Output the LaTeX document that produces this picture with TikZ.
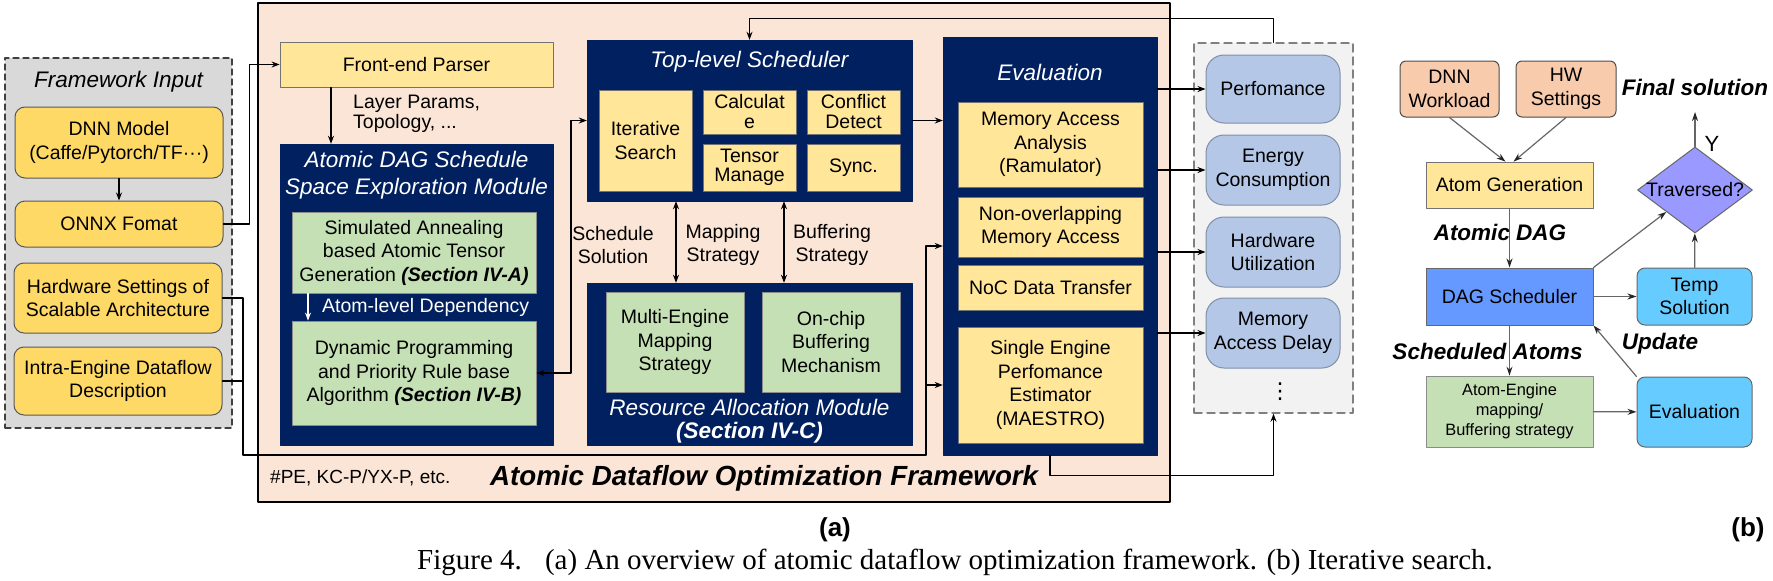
\documentclass[tikz,border=0pt]{standalone}
\usepackage{fontspec}
\setmainfont{Liberation Sans}
\newfontfamily\capfont{Liberation Serif}
\newfontfamily\symfont{DejaVu Sans}
\usetikzlibrary{arrows.meta,shapes.geometric,positioning}

\definecolor{navy}{RGB}{0,32,96}
\definecolor{peach}{HTML}{FBE5D6}
\definecolor{inyellow}{HTML}{FFD966}
\definecolor{lyellow}{HTML}{FFE699}
\definecolor{lgreen}{HTML}{C5E0B4}
\definecolor{ingray}{HTML}{D9D9D9}
\definecolor{metricfill}{HTML}{B4C7E7}
\definecolor{metricedge}{HTML}{7F8FA8}
\definecolor{salmon}{HTML}{F8CBAD}
\definecolor{dagblue}{HTML}{6699FF}
\definecolor{skyblue}{HTML}{66CCFF}
\definecolor{lavender}{HTML}{9999FF}

\begin{document}
\begin{tikzpicture}
  [
    x=1pt, y=-1pt,
    line cap=round, line join=round,
    >={Stealth[length=8pt,width=6pt]},
    txt/.style={font=\fontsize{19.5}{23.5}\selectfont, align=center, inner sep=0pt},
    sz/.style 2 args={minimum width=#1pt, minimum height=#2pt},
    inbox/.style={txt, draw=black!65, line width=1pt, fill=inyellow, rounded corners=10pt},
    ybox/.style={txt, draw=black!55, line width=.8pt, fill=lyellow},
    gbox/.style={txt, draw=black!45, line width=.8pt, fill=lgreen},
    darkbox/.style={fill=navy, draw=navy, inner sep=0pt},
    ttl/.style={font=\fontsize{22.5}{27}\selectfont\itshape, text=white, align=center, inner sep=0pt},
    metric/.style={txt, draw=metricedge, line width=1pt, fill=metricfill, rounded corners=18pt},
    bnote/.style={font=\fontsize{22.5}{27}\selectfont\bfseries\itshape, inner sep=0pt},
    conn/.style={line width=1.2pt},
    bconn/.style={draw=black!60, line width=1.2pt, -{Stealth[length=9pt,width=6pt,color=black!85]}},
  ]
\useasboundingbox (0,0) rectangle (1773,581);

% ---- framework input
\node[draw=black!75, dashed, dash pattern=on 6pt off 4pt, line width=1.2pt, fill=ingray, sz={227}{370}] (input) at (118.5,243) {};
\node[ttl, text=black] (inputT) at (118.5,82) {Framework Input};
\node[inbox, sz={208}{71}] (dnn) at (119,142.5) {DNN Model\\(Caffe/Pytorch/TF···)};
\node[inbox, sz={208}{46}] (onnx) at (119,224) {ONNX Fomat};
\node[inbox, sz={208}{70}] (hws) at (118,298) {Hardware Settings of\\Scalable Architecture};
\node[inbox, sz={208}{68}] (intra) at (118,381) {Intra-Engine Dataflow\\Description};

% ---- optimization framework
\node[draw=black, line width=2pt, fill=peach, sz={912}{499}] (frame) at (714,252.5) {};
\node[ybox, sz={273}{45}] (parser) at (416.5,64.5) {Front-end Parser};
\node[txt, anchor=west, align=left, font=\fontsize{19.5}{19.5}\selectfont] (params) at (353,114) {Layer Params,\\Topology, ...};

\node[darkbox, sz={273}{301}] (dagmod) at (416.5,294.5) {};
\node[ttl] (dagmodT) at (416.5,175.5) {Atomic DAG Schedule\\Space Exploration Module};
\node[gbox, sz={244}{81}] (sa) at (414,252.5) {Simulated Annealing\\based Atomic Tensor\\Generation \textbf{\textit{(Section IV-A)}}};
\node[gbox, sz={244}{104}] (dp) at (414,373) {Dynamic Programming\\and Priority Rule base\\Algorithm \textbf{\textit{(Section IV-B)}}};
\node[txt, text=white, anchor=west] (dep) at (322,307) {Atom-level Dependency};

\node[darkbox, sz={325}{161}] (top) at (749.5,120.5) {};
\node[ttl] (topT) at (749.5,62) {Top-level Scheduler};
\node[ybox, sz={93}{101}] (iter) at (645.5,140.5) {Iterative\\Search};
\node[ybox, sz={93}{44}, font=\fontsize{19.5}{20}\selectfont] (calc) at (749.5,112) {Calculat\\e};
\node[ybox, sz={93}{47}, font=\fontsize{19.5}{19}\selectfont] (tensor) at (749.5,167.5) {Tensor\\Manage};
\node[ybox, sz={93}{44}, font=\fontsize{19.5}{20}\selectfont] (conflict) at (853.5,112) {Conflict\\Detect};
\node[ybox, sz={93}{47}] (sync) at (853.5,167.5) {Sync.};

\node[darkbox, sz={325}{162}] (res) at (749.5,364) {};
\node[gbox, sz={138}{100}] (multi) at (675,342) {Multi-Engine\\Mapping\\Strategy};
\node[gbox, sz={138}{100}] (onchip) at (831,342) {On-chip\\Buffering\\Mechanism};
\node[ttl] (resT) at (749.5,407) {Resource Allocation Module};
\node[ttl, font=\fontsize{22.5}{27}\selectfont\bfseries\itshape] (resS) at (749.5,433) {(Section IV-C)};

\node[txt] (schsol) at (613,245) {Schedule\\Solution};
\node[txt] (mapstr) at (723,245) {Mapping\\Strategy};
\node[txt] (bufstr) at (832,245) {Buffering\\Strategy};

\node[darkbox, sz={214}{418}] (eval) at (1050,246) {};
\node[ttl] (evalT) at (1050,72) {Evaluation};
\node[ybox, sz={185}{85}] (mem) at (1050.5,144.5) {Memory Access\\Analysis\\(Ramulator)};
\node[ybox, sz={185}{60}] (nonov) at (1050.5,227) {Non-overlapping\\Memory Access};
\node[ybox, sz={185}{45}] (noc) at (1050.5,287.5) {NoC Data Transfer};
\node[ybox, sz={185}{116}] (single) at (1050.5,385) {Single Engine\\Perfomance\\Estimator\\(MAESTRO)};

\node[inner sep=0pt, anchor=west, font=\fontsize{19}{19}\selectfont] (pe) at (270,478) {\#PE, KC-P/YX-P, etc.};
\node[inner sep=0pt, anchor=west, font=\fontsize{27.7}{30}\selectfont\bfseries\itshape] (frameT) at (490,478) {Atomic Dataflow Optimization Framework};

% ---- metrics
\node[draw=black!50, dash pattern=on 8pt off 5pt, line width=1.4pt, fill=black!5, sz={159}{370}] (mbox) at (1273.5,228) {};
\node[metric, sz={134}{68}] (perf) at (1273,89) {Perfomance};
\node[metric, sz={134}{70}] (energy) at (1273,170) {Energy\\Consumption};
\node[metric, sz={134}{70}] (hwu) at (1273,252) {Hardware\\Utilization};
\node[metric, sz={134}{70}] (mad) at (1273,333) {Memory\\Access Delay};
\node[inner sep=0pt, font=\symfont\fontsize{22}{22}\selectfont] (more) at (1280,392) {⋮};

% ---- connectors (a)
\coordinate (jdag) at (571,0);
\coordinate (jhw) at (243,455);
\coordinate (jev) at (926,455);
\draw[conn, ->] (dnn) -- (onnx);
\draw[conn, ->] (onnx.east) -- ++(26,0) |- (parser.west);
\draw[conn, ->] ([xshift=-85.5pt]parser.south) -- ([xshift=-85.5pt]parser.south |- dagmod.north);
\draw[conn, ->, white] ([xshift=-106pt]sa.south) -- ([xshift=-106pt]dp.north);
\draw[conn, <->] (dp.east) -- (dp.east -| jdag) |- (top.west);
\draw[conn, ->] (top.east) -- (top.east -| eval.west);
\draw[conn, <->] ([xshift=-73.5pt]top.south) -- ([xshift=-73.5pt]res.north);
\draw[conn, <->] ([xshift=34.5pt]top.south) -- ([xshift=34.5pt]res.north);
\draw[conn] (hws.east) -| (jhw) -- (jev);
\draw[conn] (intra.east) -- (intra.east -| jhw);
\draw[conn, ->] (jev) |- (eval.west);
\draw[conn, ->] (jev |- single.west) -- (single.west -| eval.west);
\foreach \m in {perf,energy,hwu,mad}
  \draw[conn, ->] (eval.east |- \m.west) -- (\m.west);
\draw[conn, ->] (eval.south) -- ++(0,20) -| (mbox.south);
\draw[conn, ->] (mbox.north) -- ++(0,-24) -| (top.north);

% ---- iterative search (b)
\node[txt, draw=black!70, line width=1pt, fill=salmon, rounded corners=6pt, sz={99}{56}] (dnnw) at (1449.5,89) {DNN\\Workload};
\node[txt, draw=black!70, line width=1pt, fill=salmon, rounded corners=6pt, sz={100}{56}] (hwset) at (1566,89) {HW\\Settings};
\node[ybox, sz={167}{46}] (atomgen) at (1509.5,185) {Atom Generation};
\node[txt, draw=black!60, line width=1pt, fill=dagblue, sz={167}{57}] (dagsch) at (1509.5,296.5) {DAG Scheduler};
\node[txt, draw=black!60, line width=1pt, fill=skyblue, rounded corners=8pt, sz={115}{57}] (temp) at (1694.5,296.5) {Temp\\Solution};
\node[gbox, sz={167}{71}, font=\fontsize{16.4}{20}\selectfont] (atomeng) at (1509.5,411.5) {Atom-Engine\\mapping/\\Buffering strategy};
\node[txt, draw=black!60, line width=1pt, fill=skyblue, rounded corners=8pt, sz={115}{70}] (evalb) at (1694.5,412) {Evaluation};
\node[diamond, draw=black!60, line width=1pt, fill=lavender, inner sep=0pt, aspect=1.34, sz={115}{86}, label={[txt]center:Traversed?}] (trav) at (1695,190) {};
\coordinate (final) at (1695,112);

\node[bnote] (finalT) at (1695,87) {Final solution};
\node[inner sep=0pt, font=\fontsize{22}{22}\selectfont] (yes) at (1712,144) {Y};
\node[bnote] (dagT) at (1500,232) {Atomic DAG};
\node[bnote] (schedT) at (1487.5,351) {Scheduled Atoms};
\node[bnote] (updT) at (1660,344) {Update};

\draw[bconn] (dnnw.south) -- ([xshift=-4pt]atomgen.north);
\draw[bconn] (hwset.south) -- ([xshift=4pt]atomgen.north);
\draw[bconn] (atomgen) -- (dagsch);
\draw[bconn] (dagsch) -- (atomeng);
\draw[bconn] (dagsch) -- (temp);
\draw[bconn] (atomeng) -- (evalb);
\draw[bconn] (evalb.north west) -- (dagsch.south east);
\draw[bconn] (dagsch.north east) -- (trav);
\draw[bconn] (temp) -- (trav);
\draw[bconn] (trav.north) -- (final);

% ---- labels
\node[font=\fontsize{26}{30}\selectfont\bfseries] (laba) at (835,530) {(a)};
\node[font=\fontsize{26}{30}\selectfont\bfseries] (labb) at (1748,530) {(b)};
\node[font=\capfont\fontsize{29}{33}\selectfont] (cap) at (955,562) {Figure 4.\hspace{0.8em}(a) An overview of atomic dataflow optimization framework. (b) Iterative search.};
\end{tikzpicture}
\end{document}
